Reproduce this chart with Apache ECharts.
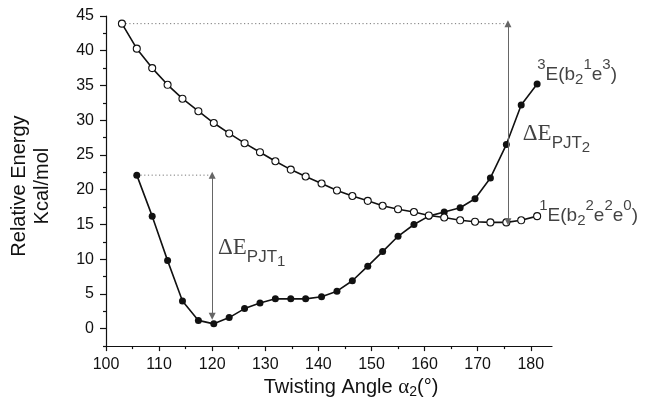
<!DOCTYPE html>
<html><head><meta charset="utf-8">
<script src="https://cdn.jsdelivr.net/npm/echarts@6/dist/echarts.min.js"></script>
<style>html,body{margin:0;padding:0;background:#fff}#c{width:655px;height:404px}</style>
</head><body><div id="c"></div>
<script>
// ---- data ----
const angles = [103.0,105.8,108.7,111.6,114.4,117.4,120.3,123.2,126.1,129.0,131.9,134.8,137.6,140.6,143.5,146.4,149.3,152.1,155.0,158.0,160.8,163.7,166.7,169.5,172.4,175.4,178.2,181.2];
const singletE = [43.9,40.3,37.5,35.1,33.1,31.3,29.6,28.1,26.7,25.4,24.1,22.9,21.9,20.9,19.9,19.1,18.4,17.7,17.2,16.8,16.3,16.0,15.6,15.4,15.3,15.3,15.6,16.2];
const tripletE = [null,22.1,16.2,9.8,4.0,1.2,0.7,1.6,2.9,3.7,4.3,4.3,4.3,4.6,5.4,6.9,9.0,11.1,13.3,15.0,16.2,16.8,17.4,18.7,21.7,26.5,32.2,35.2];
const xMajorTicks = [100,110,120,130,140,150,160,170,180];
const xMinorTicks = [105,115,125,135,145,155,165,175];
const yMajorTicks = [0,5,10,15,20,25,30,35,40,45];
const yMinorTicks = [-2.5,2.5,7.5,12.5,17.5,22.5,27.5,32.5,37.5,42.5];
const pjt2Guide = [[103.0,43.9],[175.7,43.9]];
const pjt2Arrow = [[175.7,43.9],[175.7,15.4]];
const pjt1Guide = [[105.8,22.1],[120.0,22.1]];
const pjt1Arrow = [[120.0,22.1],[120.0,1.8]];
const tripletLabelAt = [181.2,36.6];
const singletLabelAt = [181.6,16.2];
const pjt2LabelAt = [178.5,28.0];
const pjt1LabelAt = [121.1,11.6];

const sans = "'Liberation Sans', Arial, sans-serif";
const serif = "'Liberation Serif', 'Times New Roman', serif";
const pair = (xs, ys) => xs.map((x, i) => ys[i] == null ? null : [x, ys[i]]).filter(Boolean);

const stateRich = {
  n: {fontFamily: sans, fontSize: 19, color: '#111'},
  sp: {fontFamily: sans, fontSize: 15, color: '#111', padding: [0,0,20,0]},
  sb: {fontFamily: sans, fontSize: 15, color: '#111', padding: [10,0,0,0]}
};
const pjtRich = {
  d: {fontFamily: serif, fontSize: 23, color: '#111'},
  p: {fontFamily: sans, fontSize: 17, color: '#111', padding: [19,0,0,0]},
  s: {fontFamily: sans, fontSize: 15, color: '#111', padding: [27,0,0,0]}
};

const chart = echarts.init(document.getElementById('c'), null, {renderer: 'canvas'});
chart.setOption({
  backgroundColor: '#fff',
  animation: false,
  grid: {left: 104, right: 103, top: 16, bottom: 56, containLabel: false},
  xAxis: [{
    type: 'value', min: 100, max: 184,
    name: '{t|Twisting Angle }{a|α}{s|2}{t|(°)}',
    nameLocation: 'middle', nameGap: 28,
    nameTextStyle: {padding: [0,0,0,44], rich: {
      t: {fontFamily: sans, fontSize: 20, color: '#111'},
      a: {fontFamily: serif, fontSize: 21, color: '#111'},
      s: {fontFamily: sans, fontSize: 14, color: '#111', padding: [9,0,0,0]}
    }},
    axisLine: {show: true, onZero: false, lineStyle: {color: '#111', width: 1.2}},
    axisTick: {show: true, length: 5, customValues: xMajorTicks, lineStyle: {color: '#111', width: 1.2}},
    axisLabel: {customValues: xMajorTicks, margin: 10, fontFamily: sans, fontSize: 16, color: '#111'},
    splitLine: {show: false}
  }, {
    type: 'value', min: 100, max: 184, position: 'bottom',
    axisLine: {show: false, onZero: false},
    axisTick: {show: true, length: 3, customValues: xMinorTicks, lineStyle: {color: '#111', width: 1.2}},
    axisLabel: {show: false},
    splitLine: {show: false}
  }],
  yAxis: [{
    type: 'value', min: -2.5, max: 45,
    name: 'Relative Energy\nKcal/mol',
    nameLocation: 'middle', nameRotate: 90, nameGap: 52,
    nameTextStyle: {fontFamily: sans, fontSize: 20, lineHeight: 23, color: '#111', padding: [0,10,0,0]},
    axisLine: {show: true, onZero: false, lineStyle: {color: '#111', width: 1.2}},
    axisTick: {show: true, length: 6, customValues: yMajorTicks, lineStyle: {color: '#111', width: 1.2}},
    axisLabel: {customValues: yMajorTicks, margin: 12, fontFamily: sans, fontSize: 16, color: '#111'},
    splitLine: {show: false}
  }, {
    type: 'value', min: -2.5, max: 45, position: 'left',
    axisLine: {show: false, onZero: false},
    axisTick: {show: true, length: 3, customValues: yMinorTicks, lineStyle: {color: '#111', width: 1.2}},
    axisLabel: {show: false},
    splitLine: {show: false}
  }],
  series: [
    {type: 'line', data: pjt2Guide, symbol: 'none', silent: true, z: 1,
     lineStyle: {color: '#777', width: 1, type: [1.2, 2.5]}},
    {type: 'line', data: pjt1Guide, symbol: 'none', silent: true, z: 1,
     lineStyle: {color: '#777', width: 1, type: [1.2, 2.5]}},
    {type: 'line', data: [], silent: true,
     markLine: {silent: true, symbol: ['triangle','triangle'], symbolSize: [7, 7], label: {show: false},
       lineStyle: {color: '#666', width: 1, type: 'solid'},
       emphasis: {disabled: true},
       data: [
         [{coord: pjt2Arrow[0]}, {coord: pjt2Arrow[1]}],
         [{coord: pjt1Arrow[0]}, {coord: pjt1Arrow[1]}]
       ]}},
    {name: '3E', type: 'line', data: pair(angles, tripletE), symbol: 'circle', symbolSize: 7, z: 3,
     lineStyle: {color: '#111', width: 1.6}, itemStyle: {color: '#111'}},
    {name: '1E', type: 'line', data: pair(angles, singletE), symbol: 'circle', symbolSize: 7, z: 4,
     lineStyle: {color: '#111', width: 1.6}, itemStyle: {color: '#fff', borderColor: '#111', borderWidth: 1.1}},
    {type: 'scatter', symbolSize: 0, silent: true, z: 5,
     label: {show: true, position: [0, 0], align: 'left', verticalAlign: 'middle'},
     data: [
       {value: tripletLabelAt, label: {formatter: '{sp|3}{n|E(b}{sb|2}{sp|1}{n|e}{sp|3}{n|)}', rich: stateRich}},
       {value: singletLabelAt, label: {formatter: '{sp|1}{n|E(b}{sb|2}{sp|2}{n|e}{sp|2}{n|e}{sp|0}{n|)}', rich: stateRich}},
       {value: pjt2LabelAt, label: {formatter: '{d|ΔE}{p|PJT}{s|2}', rich: pjtRich}},
       {value: pjt1LabelAt, label: {formatter: '{d|ΔE}{p|PJT}{s|1}', rich: pjtRich}}
     ]}
  ]
});
</script></body></html>
